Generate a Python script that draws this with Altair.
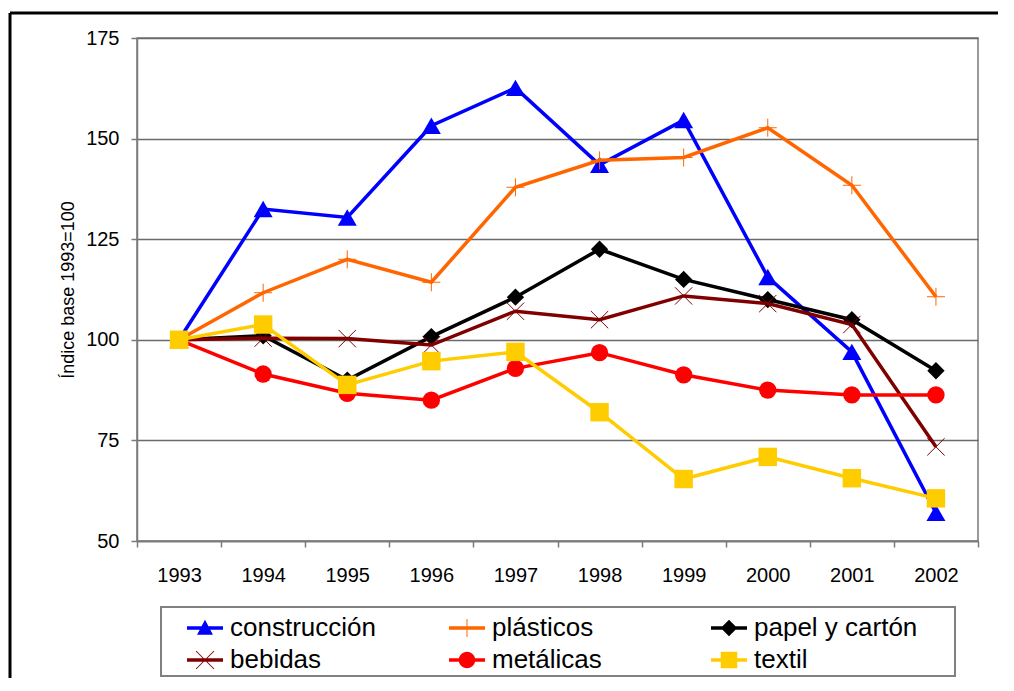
import altair as alt
import pandas as pd

# ---------------- data ----------------
years = ["1993", "1994", "1995", "1996", "1997", "1998", "1999", "2000", "2001", "2002"]
series_names = ["construcción", "plásticos", "papel y cartón", "bebidas", "metálicas", "textil"]

construccion = [100, 132.5, 130.4, 153.2, 162.6, 143.5, 154.6, 115.6, 97.0, 57.0]
plasticos = [100, 111.7, 120.0, 114.3, 137.9, 144.6, 145.3, 152.7, 138.4, 110.7]
papel_carton = [100, 101.0, 90.0, 100.8, 110.6, 122.5, 115.0, 110.0, 105.0, 92.3]
bebidas = [100, 100.4, 100.3, 98.7, 107.1, 105.0, 110.9, 109.0, 103.8, 73.4]
metalicas = [100, 91.5, 86.7, 85.0, 92.9, 96.8, 91.3, 87.5, 86.3, 86.3]
textil = [100, 103.8, 88.8, 94.7, 97.0, 82.0, 65.4, 70.9, 65.6, 60.6]

all_values = [construccion, plasticos, papel_carton, bebidas, metalicas, textil]
colors = ["#0000FF", "#FF6600", "#000000", "#800000", "#FF0000", "#FFCC00"]

rows = []
for name, vals in zip(series_names, all_values):
    for yr, v in zip(years, vals):
        rows.append({"year": yr, "series": name, "value": v})
df = pd.DataFrame(rows)

FONT = "Liberation Sans"

# ---------------- marker styles ----------------
PLUS = "M-1,0L1,0M0,-1L0,1"
XMARK = "M-1,-1L1,1M-1,1L1,-1"
marker_styles = [
    dict(shape="triangle-up", size=360, filled=True, strokeWidth=0),
    dict(shape=PLUS, size=324, filled=False, strokeWidth=1),
    dict(shape="diamond", size=300, filled=True, strokeWidth=0),
    dict(shape=XMARK, size=300, filled=False, strokeWidth=1),
    dict(shape="circle", size=300, filled=True, strokeWidth=0),
    dict(shape="square", size=340, filled=True, strokeWidth=0),
]

# legend symbols: line + marker, unit = 15px
LINE = "M-1.2,-0.117L1.2,-0.117L1.2,0.117L-1.2,0.117Z"
legend_paths = [
    LINE + "M0,-0.55L0.53,0.45L-0.53,0.45Z",
    LINE + "M-0.6,-0.033L0.6,-0.033L0.6,0.033L-0.6,0.033Z"
         + "M-0.033,-0.6L0.033,-0.6L0.033,0.6L-0.033,0.6Z",
    LINE + "M0,-0.55L0.55,0L0,0.55L-0.55,0Z",
    LINE + "M-0.576,-0.624L0.624,0.576L0.576,0.624L-0.624,-0.576Z"
         + "M0.576,-0.624L0.624,-0.576L-0.576,0.624L-0.624,0.576Z",
    LINE + "M-0.55,0A0.55,0.55,0,1,1,0.55,0A0.55,0.55,0,1,1,-0.55,0Z",
    LINE + "M-0.55,-0.55L0.55,-0.55L0.55,0.55L-0.55,0.55Z",
]

# legend fills column by column: order so it reads row-wise
legend_order = [0, 3, 1, 4, 2, 5]
legend_domain = [series_names[i] for i in legend_order]
legend_colors = [colors[i] for i in legend_order]
legend_shapes = [legend_paths[i] for i in legend_order]

x_enc = alt.X(
    "year:O",
    sort=years,
    scale=alt.Scale(type="band", paddingInner=0, paddingOuter=0),
    axis=alt.Axis(
        title=None, labelAngle=0, tickBand="extent", tickSize=6,
        labelPadding=18, labelFontSize=20, grid=False,
    ),
)
y_enc = alt.Y(
    "value:Q",
    scale=alt.Scale(domain=[50, 175], nice=False, zero=False),
    axis=alt.Axis(
        values=[50, 75, 100, 125, 150, 175], title="Índice base 1993=100",
        titleFontSize=18, titleFontWeight="normal", titlePadding=8,
        tickSize=6, labelPadding=12, labelFontSize=20, grid=True,
    ),
)

layers = []

# decorative outer frame (cropped at right / bottom)
one = pd.DataFrame({"k": [0]})
layers.append(alt.Chart(one).mark_rule(color="black", strokeWidth=3).encode(
    x=alt.value(-127), y=alt.value(-25), y2=alt.value(700)))
layers.append(alt.Chart(one).mark_rule(color="black", strokeWidth=3).encode(
    x=alt.value(-127), x2=alt.value(900), y=alt.value(-25)))
# legend frame
layers.append(alt.Chart(one).mark_rect(fill="white", stroke="#808080", strokeWidth=2).encode(
    x=alt.value(24), x2=alt.value(818), y=alt.value(569), y2=alt.value(638)))

for name, col, ms in zip(series_names, colors, marker_styles):
    base = alt.Chart(df).transform_filter(alt.datum.series == name)
    layers.append(base.mark_line(color=col, strokeWidth=3.5).encode(x=x_enc, y=y_enc))
    layers.append(base.mark_point(color=col, opacity=1, **ms).encode(x=x_enc, y=y_enc))

leg = alt.Legend(
    title=None, orient="none", legendX=30, legendY=575, columns=3,
    gridAlign="all", columnPadding=35, rowPadding=4, symbolSize=900,
    symbolOffset=23, labelOffset=10, labelFont=FONT, labelFontSize=26,
    labelLimit=400, symbolStrokeWidth=0, padding=0,
)
legend_layer = alt.Chart(df).transform_filter("false").mark_point(
    filled=True, opacity=1, strokeWidth=0
).encode(
    color=alt.Color("series:N", scale=alt.Scale(domain=legend_domain, range=legend_colors), legend=leg),
    shape=alt.Shape("series:N", scale=alt.Scale(domain=legend_domain, range=legend_shapes), legend=leg),
)
layers.append(legend_layer)

chart = alt.layer(*layers).properties(
    width=841,
    height=503,
    autosize=alt.AutoSizeParams(type="none"),
    padding={"left": 129, "top": 30, "right": 20, "bottom": 137},
).configure(font=FONT).configure_view(
    stroke="#7a7a7a", strokeWidth=1.5
).configure_axis(
    domainColor="#7a7a7a", domainWidth=1.5, tickColor="#7a7a7a", tickWidth=1.5,
    gridColor="#6a6a6a", gridWidth=1.5, labelColor="black", titleColor="black",
    labelFont=FONT, titleFont=FONT,
)

chart.save("out.html", embed_options={"renderer": "svg", "actions": False})
